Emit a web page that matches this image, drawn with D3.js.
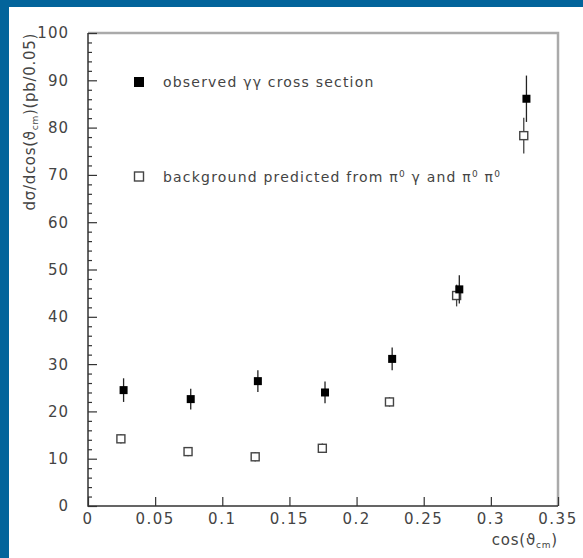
<!DOCTYPE html>
<html>
<head>
<meta charset="utf-8">
<script src="https://cdn.jsdelivr.net/npm/d3@7"></script>
<style>
  html, body { margin: 0; padding: 0; background: #fff; }
  svg text { font-family: "DejaVu Sans", sans-serif; fill: #444; }
</style>
</head>
<body>
<svg id="chart" width="583" height="558"></svg>
<script>
// Angular distribution, bins of width 0.05 in cos(theta_cm)
const xObserved   = [0.0265, 0.0765, 0.1265, 0.1765, 0.2265, 0.2765, 0.3265];
const yObserved   = [24.5, 22.6, 26.4, 24.0, 31.1, 45.8, 86.1];
const errObserved = [2.5, 2.2, 2.3, 2.3, 2.4, 3.0, 4.9];

const xBackground   = [0.0245, 0.0745, 0.1245, 0.1745, 0.2245, 0.2745, 0.3245];
const yBackground   = [14.2, 11.5, 10.4, 12.2, 22.0, 44.5, 78.3];
const errBackground = [1.0, 1.0, 1.0, 1.0, 1.0, 2.3, 3.8];

const xTickValues = [0, 0.05, 0.1, 0.15, 0.2, 0.25, 0.3, 0.35];
const xTickLabels = ["0", "0.05", "0.1", "0.15", "0.2", "0.25", "0.3", "0.35"];
const yTickValues = [0, 10, 20, 30, 40, 50, 60, 70, 80, 90, 100];

const svg = d3.select("#chart");
const W = 583, H = 558;
const m = { left: 88, right: 25, top: 33, bottom: 52 };

// page frame: blue strips along top and left edges
svg.append("rect").attr("width", W).attr("height", H).attr("fill", "#fff");
svg.append("rect").attr("x", 0).attr("y", 0).attr("width", W).attr("height", 7).attr("fill", "#03649b");
svg.append("rect").attr("x", 0).attr("y", 0).attr("width", 9).attr("height", H).attr("fill", "#03649b");

const x = d3.scaleLinear().domain([0, 0.35]).range([m.left, W - m.right]);
const y = d3.scaleLinear().domain([0, 100]).range([H - m.bottom, m.top]);

// top and right frame edges
svg.append("path")
  .attr("d", `M${x(0)},${y(100)}H${x(0.35)}V${y(0)}`)
  .attr("fill", "none").attr("stroke", "#aaa").attr("stroke-width", 2.5);

// y axis: major ticks every 10, minor every 2, drawn inward
const yMajor = d3.axisRight(y).tickValues(yTickValues).tickSize(9).tickFormat("");
const yMinor = d3.axisRight(y).tickValues(d3.range(0, 101, 2).filter(v => v % 10 !== 0)).tickSize(4).tickFormat("");
const gyMinor = svg.append("g").attr("transform", `translate(${x(0)},0)`).call(yMinor);
const gy = svg.append("g").attr("transform", `translate(${x(0)},0)`).call(yMajor);
[gy, gyMinor].forEach(g => {
  g.select(".domain").remove();
  g.selectAll(".tick line").attr("stroke", "#333").attr("stroke-width", 1.2);
});

// x axis: major ticks pointing up
const xAxis = d3.axisTop(x).tickValues(xTickValues).tickSize(9).tickFormat("");
const gx = svg.append("g").attr("transform", `translate(0,${y(0)})`).call(xAxis);
gx.select(".domain").remove();
gx.selectAll(".tick line").attr("stroke", "#333").attr("stroke-width", 1.2);

// left and bottom axis lines
svg.append("path")
  .attr("d", `M${x(0)},${y(100)}V${y(0)}H${x(0.35)}`)
  .attr("fill", "none").attr("stroke", "#333").attr("stroke-width", 1.5);

// tick labels
svg.append("g").selectAll("text").data(yTickValues).join("text")
  .attr("x", x(0) - 19).attr("y", d => y(d)).attr("dy", "0.36em")
  .attr("text-anchor", "end").attr("font-size", 15).attr("letter-spacing", 1)
  .text(d => d);
svg.append("g").selectAll("text").data(xTickValues).join("text")
  .attr("x", d => x(d)).attr("y", y(0) + 18)
  .attr("text-anchor", "middle").attr("font-size", 15).attr("letter-spacing", 1.5)
  .text((d, i) => xTickLabels[i]);

// axis titles
const xt = svg.append("text").attr("x", x(0.35)).attr("y", 545)
  .attr("text-anchor", "end").attr("font-size", 15).attr("letter-spacing", 0.8);
xt.append("tspan").text("cos(ϑ");
xt.append("tspan").attr("font-size", 9).attr("dy", 3).text("cm");
xt.append("tspan").attr("dy", -3).text(")");

const yt = svg.append("text").attr("transform", `translate(35,${y(100)}) rotate(-90)`)
  .attr("text-anchor", "end").attr("font-size", 15).attr("letter-spacing", 0.7);
yt.append("tspan").text("dσ/dcos(ϑ");
yt.append("tspan").attr("font-size", 9).attr("dy", 3).text("cm");
yt.append("tspan").attr("dy", -3).text(")(pb/0.05)");

// data: background (open squares) then observed (filled squares)
const S = 8;
const bg = d3.range(xBackground.length).map(i => ({ x: xBackground[i], y: yBackground[i], e: errBackground[i] }));
const ob = d3.range(xObserved.length).map(i => ({ x: xObserved[i], y: yObserved[i], e: errObserved[i] }));

svg.append("g").selectAll("line").data(bg).join("line")
  .attr("x1", d => x(d.x)).attr("x2", d => x(d.x))
  .attr("y1", d => y(d.y - d.e)).attr("y2", d => y(d.y + d.e))
  .attr("stroke", "#444").attr("stroke-width", 1.3);
svg.append("g").selectAll("rect").data(bg).join("rect")
  .attr("x", d => x(d.x) - S / 2).attr("y", d => y(d.y) - S / 2)
  .attr("width", S).attr("height", S)
  .attr("fill", "#fff").attr("stroke", "#444").attr("stroke-width", 1.4);

svg.append("g").selectAll("line").data(ob).join("line")
  .attr("x1", d => x(d.x)).attr("x2", d => x(d.x))
  .attr("y1", d => y(d.y - d.e)).attr("y2", d => y(d.y + d.e))
  .attr("stroke", "#222").attr("stroke-width", 1.3);
svg.append("g").selectAll("rect").data(ob).join("rect")
  .attr("x", d => x(d.x) - S / 2).attr("y", d => y(d.y) - S / 2)
  .attr("width", S).attr("height", S).attr("fill", "#000");

// legend
const L = 10;
svg.append("rect").attr("x", 139 - L / 2).attr("y", 82 - L / 2).attr("width", L).attr("height", L).attr("fill", "#000");
svg.append("rect").attr("x", 139.5 - L / 2).attr("y", 177 - L / 2).attr("width", L - 1).attr("height", L - 1)
  .attr("fill", "#fff").attr("stroke", "#444").attr("stroke-width", 1.4);

svg.append("text").attr("x", 163).attr("y", 82).attr("dy", "0.36em")
  .attr("font-size", 14).attr("letter-spacing", 1.2)
  .text("observed γγ cross section");

const l2 = svg.append("text").attr("x", 163).attr("y", 177).attr("dy", "0.36em")
  .attr("font-size", 14).attr("letter-spacing", 1.2);
l2.append("tspan").text("background predicted from π");
l2.append("tspan").attr("font-size", 9).attr("dy", -5).text("0");
l2.append("tspan").attr("dy", 5).text(" γ and π");
l2.append("tspan").attr("font-size", 9).attr("dy", -5).text("0");
l2.append("tspan").attr("dy", 5).text(" π");
l2.append("tspan").attr("font-size", 9).attr("dy", -5).text("0");
</script>
</body>
</html>
